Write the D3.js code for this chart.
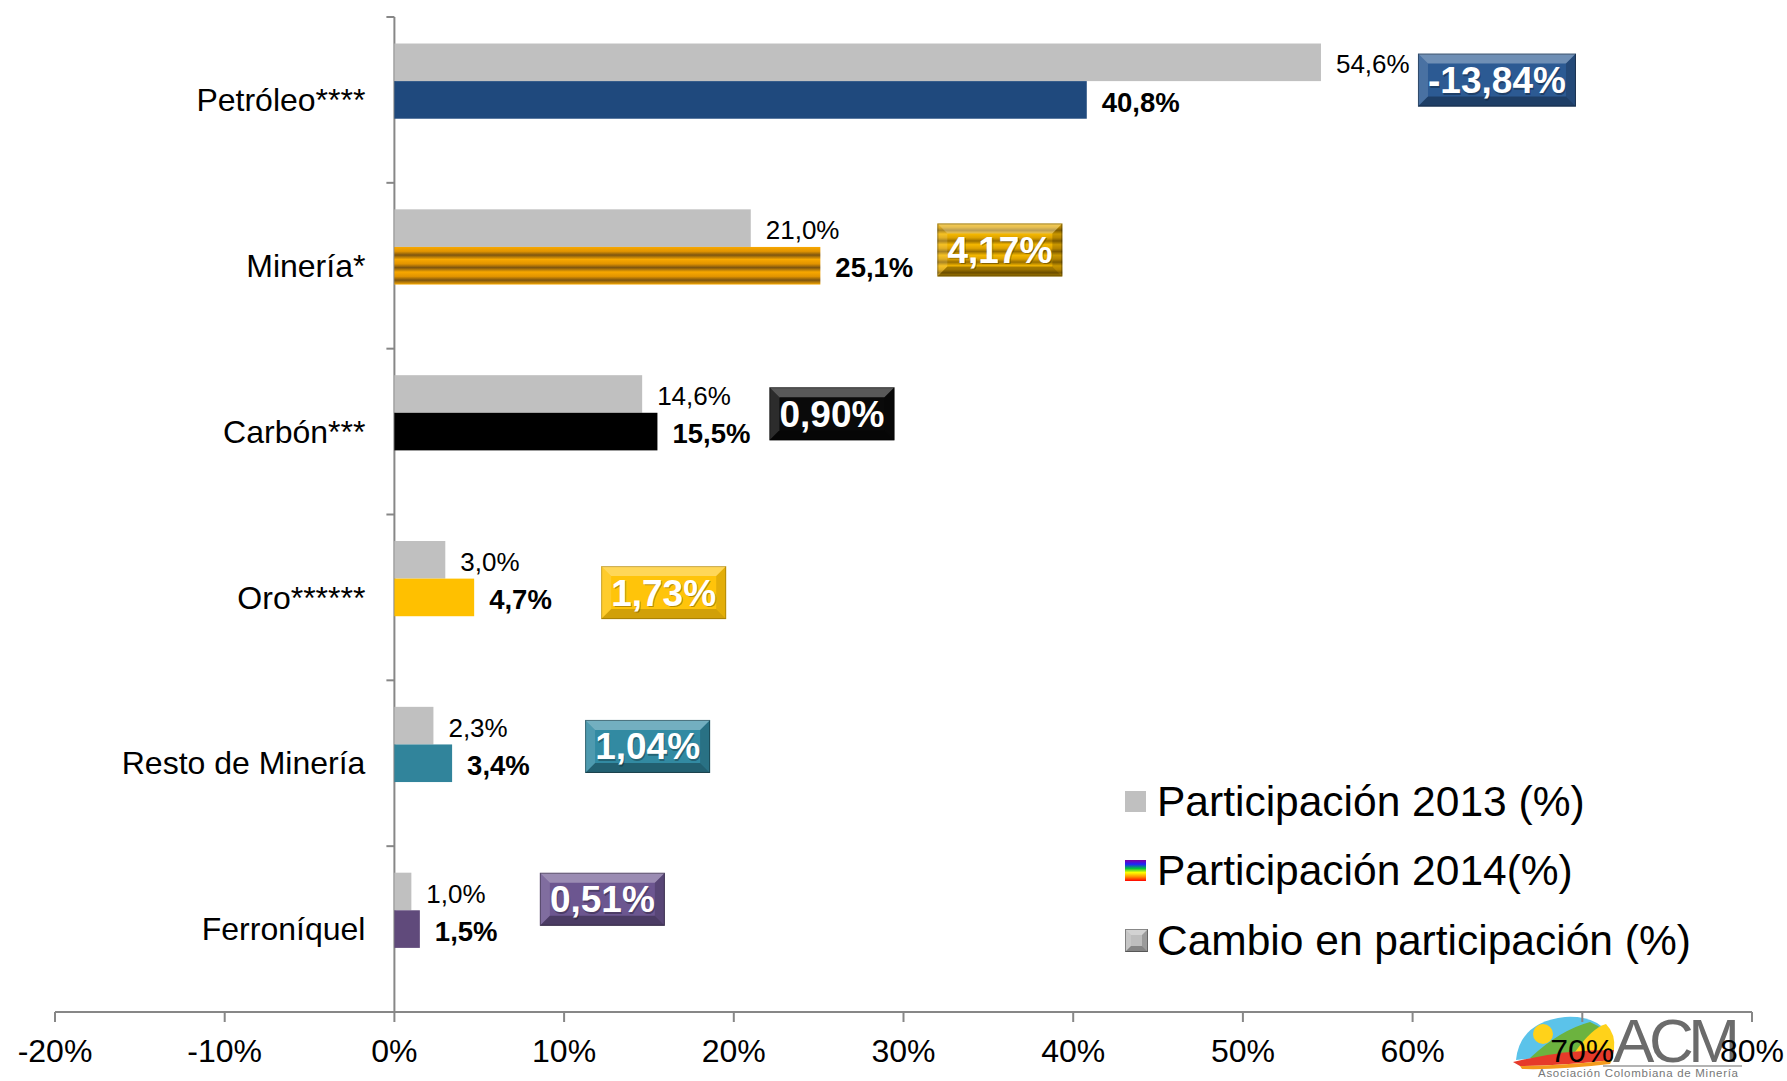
<!DOCTYPE html>
<html>
<head>
<meta charset="utf-8">
<script src="https://cdn.jsdelivr.net/npm/d3@7"></script>
<style>
  body { margin: 0; background: #fff; }
  svg { font-family: "Liberation Sans", Arial, sans-serif; }
</style>
</head>
<body>
<div id="chart"></div>
<script>
// chart data
const categories = ["Petróleo****", "Minería*", "Carbón***", "Oro******", "Resto de Minería", "Ferroníquel"];
const part2013 = [54.6, 21.0, 14.6, 3.0, 2.3, 1.0];
const part2014 = [40.8, 25.1, 15.5, 4.7, 3.4, 1.5];
const cambio = [-13.84, 4.17, 0.90, 1.73, 1.04, 0.51];
const xTicks = [-20, -10, 0, 10, 20, 30, 40, 50, 60, 70, 80];
const legendLabels = ["Participación 2013 (%)", "Participación 2014(%)", "Cambio en participación (%)"];

// colours per category (2014 bars and badges)
const barColors = ["#1f497d", "url(#stripeBar)", "#000000", "#ffc000", "#31849b", "#604a7b"];
const badgeColors = ["#2c5a93", "url(#stripeBadge)", "#0a0a0a", "#ffc40a", "#328aa2", "#6c5690"];
// hand placement of the badges (px nudges, like in the original slide)
const badgeNudge = [[-20, -1], [0, 3], [-5, 1], [10, 14], [16, 2], [3, -11]];

const width = 1787;
const height = 1081;

const locale = d3.formatLocale({ decimal: ",", thousands: ".", grouping: [3], currency: ["", ""], minus: "-" });
const f1 = locale.format(".1f");
const f2 = locale.format(".2f");

const svg = d3.select("#chart").append("svg")
    .attr("width", width)
    .attr("height", height);

const defs = svg.append("defs");

// striped gradients for Minería
function stripes(id, cycles, light, mid, dark) {
    const g = defs.append("linearGradient").attr("id", id)
        .attr("x1", 0).attr("y1", 0).attr("x2", 0).attr("y2", 1);
    for (let i = 0; i < cycles; i++) {
        const s = i / cycles, w = 1 / cycles;
        g.append("stop").attr("offset", s).attr("stop-color", light);
        g.append("stop").attr("offset", s + w * 0.35).attr("stop-color", mid);
        g.append("stop").attr("offset", s + w * 0.65).attr("stop-color", dark);
        g.append("stop").attr("offset", s + w).attr("stop-color", light);
    }
}
stripes("stripeBar", 3, "#f8a800", "#e29400", "#7c5410");
stripes("stripeBadge", 5, "#f5b800", "#dca200", "#9a7000");

const rainbow = defs.append("linearGradient").attr("id", "rainbow")
    .attr("x1", 0).attr("y1", 0).attr("x2", 0).attr("y2", 1);
["#8000a0", "#2020ff", "#00c040", "#ffff00", "#ff9000", "#ff0000"].forEach((c, i, a) => {
    rainbow.append("stop").attr("offset", i / (a.length - 1)).attr("stop-color", c);
});

// scales
const x = d3.scaleLinear().domain([-20, 80]).range([55, 1752]);
const y = d3.scaleBand().domain(categories).range([17, 1012]).padding(0);
const ySub = d3.scaleBand().domain(["2013", "2014", "cambio"])
    .range([0, y.bandwidth()]).paddingInner(0).paddingOuter(0.705);

// ACM logo (drawn under the axis labels)
const logo = svg.append("g");
logo.append("path").attr("d", "M1516,1060 Q1520,1022 1565,1017 Q1600,1015 1612,1040 L1600,1052 Z").attr("fill", "#5bc3ea");
logo.append("circle").attr("cx", 1543).attr("cy", 1034).attr("r", 10).attr("fill", "#ffd21a");
logo.append("path").attr("d", "M1530,1058 Q1560,1030 1590,1022 Q1605,1028 1612,1042 Q1580,1048 1560,1060 Z").attr("fill", "#6cb33f");
logo.append("path").attr("d", "M1575,1052 Q1592,1028 1606,1024 Q1616,1034 1614,1050 Z").attr("fill", "#ffd21a");
logo.append("path").attr("d", "M1513,1062 Q1560,1050 1614,1050 L1612,1060 Q1560,1066 1520,1066 Z").attr("fill", "#e63a2a");
logo.append("path").attr("d", "M1520,1066 Q1560,1066 1612,1060 L1610,1064 Q1560,1070 1522,1069 Z").attr("fill", "#f39a1e");
logo.append("text").attr("x", 1613).attr("y", 1062)
    .attr("font-size", 62).attr("fill", "#6b6b6b").attr("textLength", 127).text("ACM");
logo.append("line").attr("x1", 1603).attr("x2", 1742).attr("y1", 1066).attr("y2", 1066)
    .attr("stroke", "#9a9a9a").attr("stroke-width", 1.5);
logo.append("text").attr("x", 1538).attr("y", 1077)
    .attr("font-size", 11.5).attr("fill", "#777").attr("textLength", 200)
    .text("Asociación Colombiana de Minería");

// axes
const axisColor = "#878787";
svg.append("line").attr("x1", x(-20)).attr("x2", x(80)).attr("y1", 1012).attr("y2", 1012)
    .attr("stroke", axisColor).attr("stroke-width", 2);
svg.selectAll(".xtick").data(xTicks).enter().append("line")
    .attr("x1", d => x(d)).attr("x2", d => x(d)).attr("y1", 1012).attr("y2", 1022)
    .attr("stroke", axisColor).attr("stroke-width", 2);
svg.selectAll(".xlab").data(xTicks).enter().append("text")
    .attr("x", d => x(d)).attr("y", 1051).attr("dy", "0.35em")
    .attr("text-anchor", "middle").attr("font-size", 32).attr("fill", "#000")
    .text(d => d + "%");

svg.append("line").attr("x1", x(0)).attr("x2", x(0)).attr("y1", 17).attr("y2", 1012)
    .attr("stroke", axisColor).attr("stroke-width", 2);
const yEdges = categories.map(c => y(c)).concat([y(categories[categories.length - 1]) + y.bandwidth()]);
svg.selectAll(".ytick").data(yEdges).enter().append("line")
    .attr("x1", x(0) - 8).attr("x2", x(0)).attr("y1", d => d).attr("y2", d => d)
    .attr("stroke", axisColor).attr("stroke-width", 2);
svg.selectAll(".ylab").data(categories).enter().append("text")
    .attr("x", x(0) - 29).attr("y", d => y(d) + y.bandwidth() / 2).attr("dy", "0.35em")
    .attr("text-anchor", "end").attr("font-size", 32).attr("fill", "#000")
    .text(d => d);

// bars
const g = svg.append("g");
g.selectAll(".b13").data(categories).enter().append("rect")
    .attr("x", x(0)).attr("y", d => y(d) + ySub("2013"))
    .attr("width", (d, i) => x(part2013[i]) - x(0)).attr("height", ySub.bandwidth())
    .attr("fill", "#c0c0c0");
g.selectAll(".b14").data(categories).enter().append("rect")
    .attr("x", x(0)).attr("y", d => y(d) + ySub("2014"))
    .attr("width", (d, i) => x(part2014[i]) - x(0)).attr("height", ySub.bandwidth())
    .attr("fill", (d, i) => barColors[i]);

// labels
g.selectAll(".l13").data(categories).enter().append("text")
    .attr("x", (d, i) => x(part2013[i]) + 15)
    .attr("y", d => y(d) + ySub("2013") + ySub.bandwidth() / 2 + 2).attr("dy", "0.35em")
    .attr("font-size", 26).attr("fill", "#000")
    .text((d, i) => f1(part2013[i]) + "%");
g.selectAll(".l14").data(categories).enter().append("text")
    .attr("x", (d, i) => x(part2014[i]) + 15)
    .attr("y", d => y(d) + ySub("2014") + ySub.bandwidth() / 2 + 2).attr("dy", "0.35em")
    .attr("font-size", 27.5).attr("font-weight", "bold").attr("fill", "#000")
    .text((d, i) => f1(part2014[i]) + "%");

// bevelled badge
function bevel(parent, x0, y0, w, h, fill, d, dark) {
    const x1 = x0 + w, y1 = y0 + h;
    parent.append("rect").attr("x", x0).attr("y", y0).attr("width", w).attr("height", h).attr("fill", fill);
    const k = dark === undefined ? 1 : dark;
    const facets = [
        [[x0, y0], [x1, y0], [x1 - d, y0 + d], [x0 + d, y0 + d], "#fff", 0.32],
        [[x0, y0], [x0 + d, y0 + d], [x0 + d, y1 - d], [x0, y1], "#fff", 0.14],
        [[x1, y0], [x1 - d, y0 + d], [x1 - d, y1 - d], [x1, y1], "#000", 0.18 * k],
        [[x0, y1], [x1, y1], [x1 - d, y1 - d], [x0 + d, y1 - d], "#000", 0.3 * k]
    ];
    facets.forEach(f => {
        parent.append("path").attr("d", "M" + f.slice(0, 4).map(p => p.join(",")).join("L") + "Z")
            .attr("fill", f[4]).attr("fill-opacity", f[5]);
    });
    parent.append("rect").attr("x", x0 + 0.5).attr("y", y0 + 0.5).attr("width", w - 1).attr("height", h - 1)
        .attr("fill", "none").attr("stroke", "#000").attr("stroke-opacity", 0.35 * k);
}

const badges = svg.append("g");
categories.forEach((c, i) => {
    const label = f2(cambio[i]) + "%";
    const fs = 37;
    const tw = label.length === 7 ? 138 : 105;
    const w = tw + 20, h = 53;
    const x0 = x(Math.max(part2013[i], part2014[i])) + 117 + badgeNudge[i][0];
    const cy = y(c) + ySub("2014") + badgeNudge[i][1];
    const bg = badges.append("g");
    bevel(bg, x0, cy - h / 2, w, h, badgeColors[i], 10, i === 3 ? 0.6 : 1);
    bg.append("text").attr("x", x0 + w / 2 + 1).attr("y", cy + 1.5).attr("dy", "0.35em")
        .attr("text-anchor", "middle").attr("font-size", fs).attr("font-weight", "bold")
        .attr("fill", "#000").attr("fill-opacity", 0.3).text(label);
    bg.append("text").attr("x", x0 + w / 2).attr("y", cy).attr("dy", "0.35em")
        .attr("text-anchor", "middle").attr("font-size", fs).attr("font-weight", "bold")
        .attr("fill", "#fff").text(label);
});

// legend
const legend = svg.append("g").attr("transform", "translate(1125,0)");
const rowY = [801, 870, 940];
legend.append("rect").attr("x", 0).attr("y", rowY[0] - 10).attr("width", 21).attr("height", 21).attr("fill", "#c0c0c0");
legend.append("rect").attr("x", 0).attr("y", rowY[1] - 10).attr("width", 21).attr("height", 21).attr("fill", "url(#rainbow)");
bevel(legend, 0, rowY[2] - 11, 23, 23, "#bdbdbd", 6);
legend.selectAll(".lt").data(legendLabels).enter().append("text")
    .attr("x", 32).attr("y", (d, i) => rowY[i]).attr("dy", "0.35em")
    .attr("font-size", 42.5).attr("fill", "#000").text(d => d);
</script>
</body>
</html>
